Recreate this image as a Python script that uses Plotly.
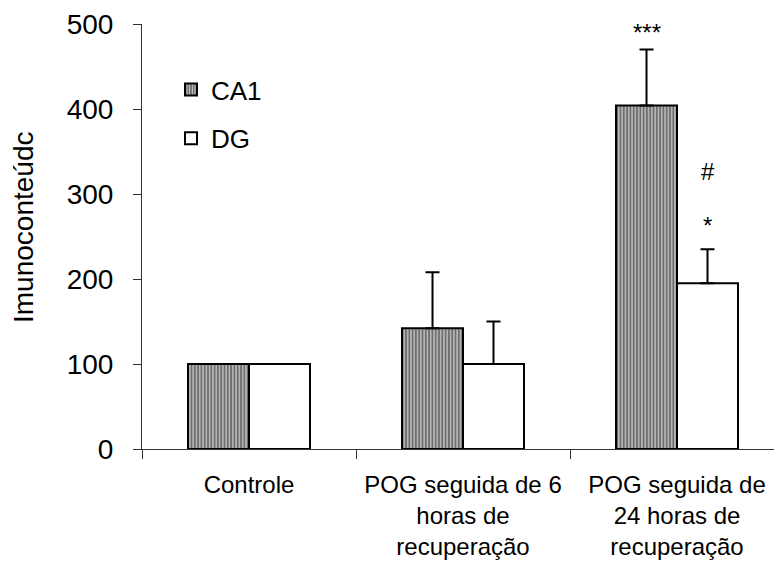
import plotly.graph_objects as go

categories = ["Controle",
              "POG seguida de 6<br>horas de<br>recuperação",
              "POG seguida de<br>24 horas de<br>recuperação"]
ca1_values = [100, 142, 404]
ca1_err = [0, 66, 66]
dg_values = [100, 100, 195]
dg_err = [0, 50, 40]
y_ticks = [0, 100, 200, 300, 400, 500]

W, H = 774, 563
L, R, T, B = 142, 0, 24, 114
PW, PH = W - L - R, H - T - B
bargap = 0.43
bw = (1 - bargap) / 2
FONT = "Liberation Sans, Arial, sans-serif"

fig = go.Figure()
fig.add_trace(go.Bar(
    name="CA1", x=categories, y=ca1_values, legendgroup="a",
    marker=dict(color="#6e6e6e", line=dict(color="black", width=2),
                pattern=dict(shape="|", bgcolor="#6e6e6e", fgcolor="#d2d2d2",
                             size=3.3, solidity=0.35, fillmode="replace")),
    error_y=dict(type="data", symmetric=False, array=ca1_err,
                 arrayminus=[0]*3, color="black", thickness=2, width=7),
))
fig.add_trace(go.Bar(
    name="DG", x=categories, y=dg_values, legendgroup="b",
    marker=dict(color="white", line=dict(color="black", width=2)),
    error_y=dict(type="data", symmetric=False, array=dg_err,
                 arrayminus=[0]*3, color="black", thickness=2, width=7),
))

# significance markers
ann_font = dict(family=FONT, size=24, color="black")
fig.add_annotation(x=2 - bw/2, y=ca1_values[2] + ca1_err[2], text="***",
                   showarrow=False, yanchor="bottom", yshift=2, font=ann_font)
fig.add_annotation(x=2 + bw/2, y=dg_values[2] + dg_err[2], text="*",
                   showarrow=False, yanchor="bottom", yshift=8, font=ann_font)
fig.add_annotation(x=2 + bw/2, y=dg_values[2] + dg_err[2], text="#",
                   showarrow=False, yanchor="bottom", yshift=62, font=ann_font)

# y-axis title
fig.add_annotation(xref="paper", yref="paper", x=(23 - L) / PW, y=(H - B - 228) / PH,
                   text="Imunoconteúdc", textangle=-90, showarrow=False,
                   xanchor="center", yanchor="middle",
                   font=dict(family=FONT, size=28, color="black"))

fig.update_layout(
    width=W, height=H,
    margin=dict(l=L, r=R, t=T, b=B, pad=0),
    paper_bgcolor="white", plot_bgcolor="white",
    barmode="group", bargap=bargap, bargroupgap=0,
    font=dict(family=FONT, color="black"),
    showlegend=True,
    legend=dict(x=(171 - L) / PW, y=(H - B - 66) / PH, xanchor="left", yanchor="top",
                font=dict(size=26), bgcolor="rgba(0,0,0,0)",
                traceorder="grouped", tracegroupgap=12),
    xaxis=dict(type="category", range=[-0.5, 2.5 - 10/214],
               showline=True, linecolor="#333", linewidth=1,
               ticks="outside", ticklen=9, tickcolor="#333", tickson="boundaries",
               tickfont=dict(size=24), ticklabelstandoff=14,
               showgrid=False, zeroline=False),
    yaxis=dict(range=[0, 500], tickvals=y_ticks,
               showline=True, linecolor="#333", linewidth=1,
               ticks="outside", ticklen=8, tickcolor="#333",
               tickfont=dict(size=28), ticklabelstandoff=14,
               showgrid=False, zeroline=False),
)

fig.write_html("out.html")
